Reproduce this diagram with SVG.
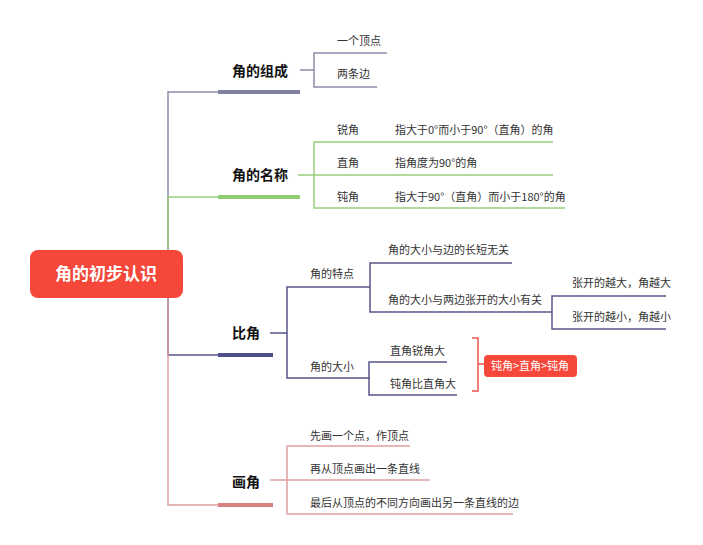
<svg xmlns="http://www.w3.org/2000/svg" width="703" height="545" viewBox="0 0 703 545">
<style>
text{font-family:"Noto Sans CJK SC","Liberation Sans",sans-serif;font-size:11px;fill:#333}
.b{font-size:14px;font-weight:bold;fill:#111}
.l{fill:none;stroke-width:1.5}
.g{stroke:#8a8aa8}.n{stroke:#98cf7c}.p{stroke:#55558a}.k{stroke:#e0a0a0}
</style>
<rect width="703" height="545" fill="#fff"/>
<g id="connectors">
<path class="l g" d="M168 274V92H218"/>
<path class="l n" d="M168 274V197H218"/>
<path class="l p" d="M168 274V355H218"/>
<path class="l k" d="M168 274V505H218"/>
<path stroke="#8080a0" stroke-width="4" d="M218 92H300"/>
<path stroke="#90cc70" stroke-width="4" d="M218 197H300"/>
<path stroke="#505088" stroke-width="4" d="M218 355H273"/>
<path stroke="#d88080" stroke-width="4" d="M218 505H273"/>
<path class="l g" d="M300 70H314M387 53H314V87H377"/>
<path class="l n" d="M298 175H553M553 142H314V208H565"/>
<path class="l p" d="M270 333H287M370 287H287V378H370M512 263H370V312H552M666 296H552V329H666M447 362H369V395H457"/>
<path class="l k" d="M270 480H287M410 446H287V514H513M287 480H430"/>
<path fill="none" stroke="#e8554a" stroke-width="1.5" d="M472 338H478V391H472M478 364H484"/>
</g>
<g id="root"><rect x="30" y="250" width="153" height="48" rx="8" fill="#f5483b"/><text x="106" y="280" text-anchor="middle" style="font-size:17px;font-weight:bold;fill:#fff">角的初步认识</text></g>
<g id="n1"><text class="b" x="232" y="76">角的组成</text><text x="337" y="45">一个顶点</text><text x="337" y="78">两条边</text></g>
<g id="n2"><text class="b" x="232" y="180">角的名称</text>
<text x="337" y="134">锐角</text><text x="395" y="134">指大于0°而小于90°（直角）的角</text>
<text x="337" y="167">直角</text><text x="395" y="167">指角度为90°的角</text>
<text x="337" y="201">钝角</text><text x="395" y="201">指大于90°（直角）而小于180°的角</text></g>
<g id="n3"><text class="b" x="232" y="338">比角</text>
<text x="310" y="278">角的特点</text><text x="388" y="254">角的大小与边的长短无关</text><text x="388" y="304">角的大小与两边张开的大小有关</text>
<text x="572" y="287">张开的越大，角越大</text><text x="572" y="321">张开的越小，角越小</text>
<text x="310" y="371">角的大小</text><text x="390" y="355">直角锐角大</text><text x="390" y="388">钝角比直角大</text></g>
<g id="n4"><rect x="484" y="355" width="93" height="22" rx="4" fill="#f5483b"/><text x="530" y="370" text-anchor="middle" style="fill:#fff">钝角&gt;直角&gt;钝角</text></g>
<g id="n5"><text class="b" x="232" y="487">画角</text>
<text x="310" y="440">先画一个点，作顶点</text><text x="310" y="473">再从顶点画出一条直线</text><text x="310" y="507">最后从顶点的不同方向画出另一条直线的边</text></g>
</svg>
